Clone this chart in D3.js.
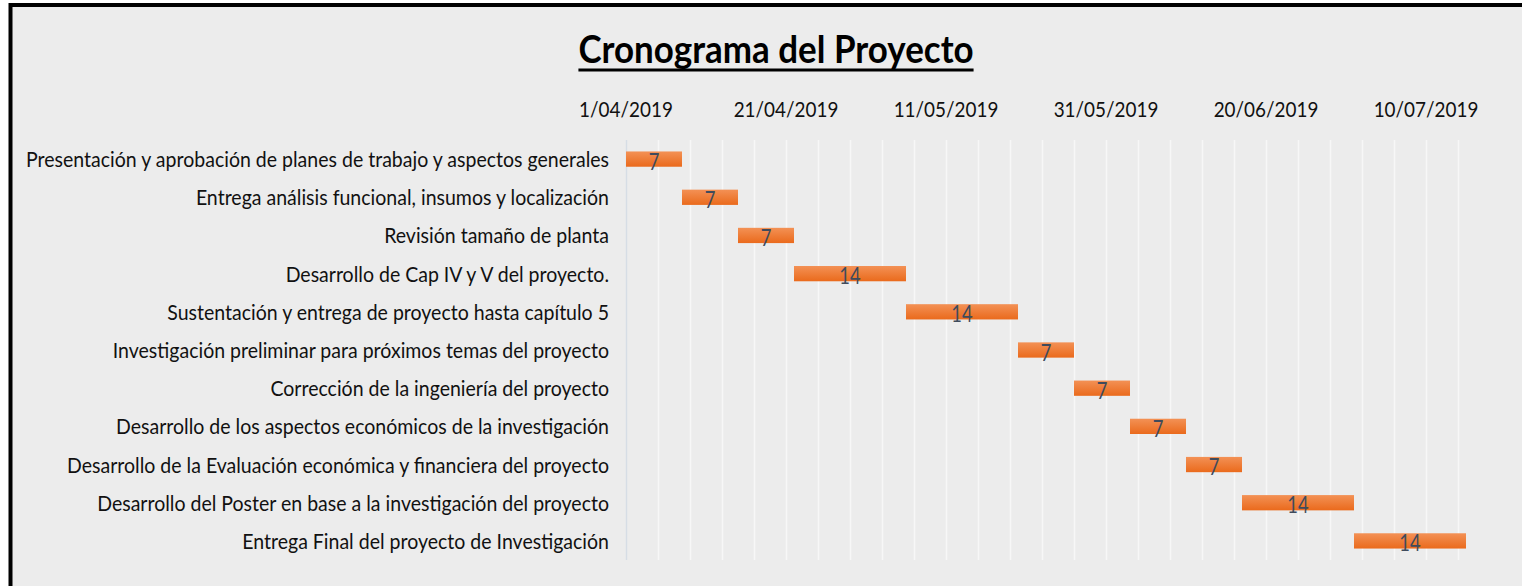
<!DOCTYPE html>
<html>
<head>
<meta charset="utf-8">
<script src="https://cdn.jsdelivr.net/npm/d3@7"></script>
<style>
  html, body { margin: 0; padding: 0; background: #ffffff; }
  svg { display: block; }
</style>
</head>
<body>
<div id="chart"></div>
<script>
// Gantt data
const tasks = [
  'Presentación y aprobación de planes de trabajo y aspectos generales',
  'Entrega análisis funcional, insumos y localización',
  'Revisión tamaño de planta',
  'Desarrollo de Cap IV y V del proyecto.',
  'Sustentación y entrega de proyecto hasta capítulo 5',
  'Investigación preliminar para próximos temas del proyecto',
  'Corrección de la ingeniería del proyecto',
  'Desarrollo de los aspectos económicos de la investigación',
  'Desarrollo de la Evaluación económica y financiera del proyecto',
  'Desarrollo del Poster en base a la investigación del proyecto',
  'Entrega Final del proyecto de Investigación'
];
const startDates = ['1/04/2019', '8/04/2019', '15/04/2019', '22/04/2019', '6/05/2019',
  '20/05/2019', '27/05/2019', '3/06/2019', '10/06/2019', '17/06/2019', '1/07/2019'];
const durations = [7, 7, 7, 14, 14, 7, 7, 7, 7, 14, 14];
const tickLabels = ['1/04/2019', '21/04/2019', '11/05/2019', '31/05/2019', '20/06/2019', '10/07/2019'];
const axisMin = '1/04/2019';
const axisMax = '15/07/2019';

const W = 1522, H = 586;
const parse = d3.timeParse('%d/%m/%Y');
const fmt = d3.timeFormat('%-d/%m/%Y');

const rows = tasks.map((t, i) => {
  const s = parse(startDates[i]);
  return { task: t, start: s, end: d3.timeDay.offset(s, durations[i]), dur: durations[i] };
});

const svg = d3.select('#chart').append('svg')
  .attr('width', W).attr('height', H);

// background + frame
svg.append('rect').attr('x', 0).attr('y', 0).attr('width', W).attr('height', H).attr('fill', '#ffffff');
svg.append('rect')
  .attr('x', 10.5).attr('y', 5)
  .attr('width', W + 20).attr('height', H + 20)
  .attr('fill', '#ececec')
  .attr('stroke', '#000').attr('stroke-width', 4);

const defs = svg.append('defs');
const grad = defs.append('linearGradient').attr('id', 'barGrad')
  .attr('x1', 0).attr('y1', 0).attr('x2', 0).attr('y2', 1);
grad.append('stop').attr('offset', '0%').attr('stop-color', '#f39155');
grad.append('stop').attr('offset', '100%').attr('stop-color', '#ea6a1c');

// scales
const x = d3.scaleTime()
  .domain([parse(axisMin), parse(axisMax)])
  .range([626, 1466]);

const y = d3.scaleBand()
  .domain(tasks)
  .range([140, 560])
  .paddingInner(0.6)
  .paddingOuter(0.3);

// gridlines every 4 days
const gridDates = d3.timeDay.range(parse(axisMin), parse(axisMax), 4);
svg.append('g').selectAll('line')
  .data(gridDates)
  .enter().append('line')
  .attr('x1', d => Math.round(x(d)) + 0.5)
  .attr('x2', d => Math.round(x(d)) + 0.5)
  .attr('y1', 140).attr('y2', 560)
  .attr('stroke', (d, i) => i === 0 ? '#d6dde5' : '#f7f7f7')
  .attr('stroke-width', 1.5);

// top axis labels
const tickDates = tickLabels.map(parse);
svg.append('g').selectAll('text')
  .data(tickDates)
  .enter().append('text')
  .attr('transform', d => `translate(${x(d)},117) scale(0.9,1)`)
  .attr('text-anchor', 'middle')
  .style('font-family', 'Lato, sans-serif')
  .style('font-size', '21px')
  .style('fill', '#111')
  .text(d => fmt(d));

// category labels
svg.append('g').selectAll('text')
  .data(rows)
  .enter().append('text')
  .attr('transform', d => `translate(609,${y(d.task) + y.bandwidth() / 2 + 8}) scale(0.93,1)`)
  .attr('text-anchor', 'end')
  .style('font-family', 'Lato, sans-serif')
  .style('font-size', '21px')
  .style('fill', '#111')
  .text(d => d.task);

// bars
svg.append('g').selectAll('rect')
  .data(rows)
  .enter().append('rect')
  .attr('x', d => x(d.start))
  .attr('width', d => x(d.end) - x(d.start))
  .attr('y', d => y(d.task))
  .attr('height', y.bandwidth())
  .attr('fill', 'url(#barGrad)');

// duration labels
svg.append('g').selectAll('text')
  .data(rows)
  .enter().append('text')
  .attr('transform', d => `translate(${(x(d.start) + x(d.end)) / 2},${y(d.task) + y.bandwidth() / 2 + 10.5}) scale(0.8,1)`)
  .attr('text-anchor', 'middle')
  .style('font-family', 'Lato, sans-serif')
  .style('font-size', '23px')
  .style('fill', '#3f4b5c')
  .text(d => d.dur);

// title
const titleScale = 0.92;
const title = svg.append('text')
  .attr('transform', `translate(776,63) scale(${titleScale},1)`)
  .attr('text-anchor', 'middle')
  .style('font-family', 'Lato, sans-serif')
  .style('font-weight', 'bold')
  .style('font-size', '38px')
  .style('fill', '#000')
  .text('Cronograma del Proyecto');

const tw = title.node().getComputedTextLength() * titleScale;
svg.append('line')
  .attr('x1', 776 - tw / 2).attr('x2', 776 + tw / 2)
  .attr('y1', 70).attr('y2', 70)
  .attr('stroke', '#000').attr('stroke-width', 3);
</script>
</body>
</html>
